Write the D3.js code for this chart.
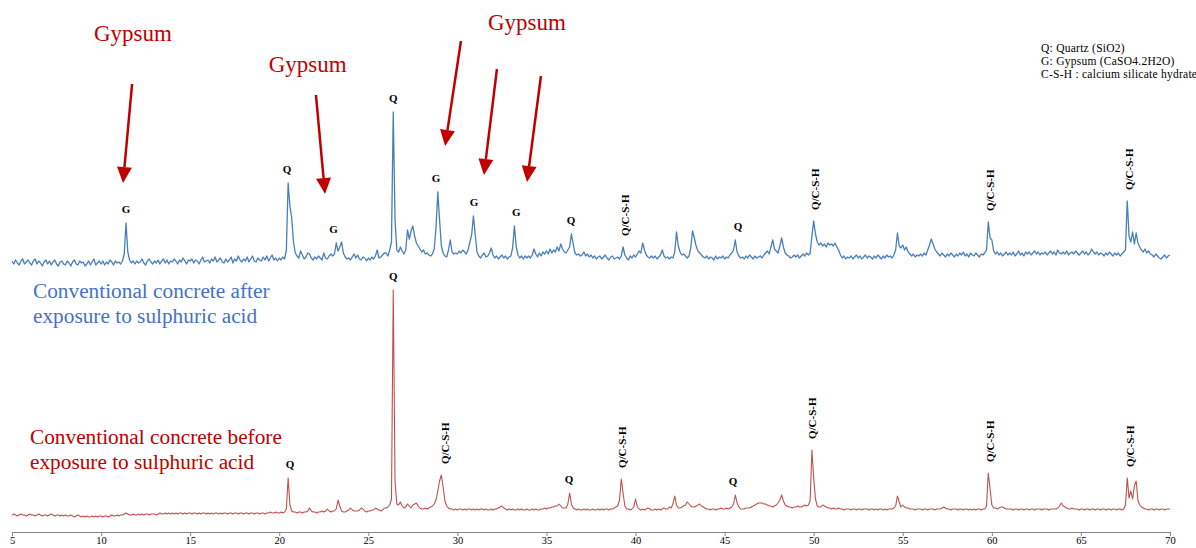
<!DOCTYPE html>
<html>
<head>
<meta charset="utf-8">
<script src="https://cdn.jsdelivr.net/npm/d3@7"></script>
<style>
  body { margin: 0; background: #fff; }
  svg { display: block; font-family: "Liberation Serif", "Times New Roman", serif; }
</style>
</head>
<body>
<div id="chart"></div>
<script>
// XRD scans, 2-theta from 5 to 70 deg, step 0.1 (one row = one degree)
const startAngle = 5, stepAngle = 0.1;

const afterCounts = [
  19,16,20,17,15,19,21,16,18,20,
  17,15,19,21,16,19,17,14,18,20,
  16,19,15,18,20,16,14,18,19,16,
  15,19,17,14,18,20,16,15,19,17,
  18,14,16,19,15,18,21,15,17,19,
  16,19,15,18,16,20,18,15,19,17,
  18,16,19,26,57,28,20,17,19,16,
  19,17,18,21,17,15,19,21,18,16,
  19,17,20,16,19,21,17,20,16,19,
  18,21,19,16,20,18,22,19,16,20,
  19,21,17,20,19,16,20,23,18,19,
  20,17,21,19,23,18,20,22,18,17,
  21,18,20,23,17,21,19,24,20,18,
  21,19,23,18,21,24,19,18,22,20,
  19,23,20,24,19,22,25,20,22,19,
  22,20,23,21,30,97,74,62,38,27,
  24,22,29,25,21,23,27,26,22,20,
  23,21,24,22,20,27,22,21,24,26,
  24,26,37,29,33,38,27,23,21,22,
  20,23,26,22,25,21,20,23,22,19,
  22,20,23,21,24,30,22,23,25,27,
  27,24,30,38,168,60,30,28,33,29,
  26,30,50,41,49,54,44,37,34,31,
  28,30,26,27,25,24,26,31,52,88,
  60,34,27,24,23,30,40,28,26,27,
  26,29,27,30,28,26,30,38,45,64,
  46,28,24,22,25,27,23,24,27,32,
  25,22,24,21,23,25,22,24,21,23,
  24,32,54,34,25,22,24,21,24,22,
  24,22,25,31,26,23,27,24,28,26,
  29,26,31,27,30,28,33,29,36,31,
  28,27,30,33,46,36,27,25,26,24,
  25,28,24,26,23,25,22,24,21,23,
  24,21,23,25,22,20,23,24,21,22,
  23,21,24,33,25,22,20,24,22,25,
  23,26,29,27,37,30,25,23,22,24,
  22,24,21,23,25,30,24,22,23,21,
  23,22,28,48,34,28,25,26,24,22,
  24,32,49,42,34,29,27,25,23,22,
  24,21,23,22,20,24,21,23,22,24,
  21,23,22,25,27,30,40,28,24,22,
  23,21,24,22,25,23,21,24,22,23,
  24,22,25,27,29,26,33,40,31,29,
  27,34,42,33,27,25,24,22,23,25,
  23,25,22,24,26,24,27,25,27,44,
  59,46,38,35,37,34,36,33,37,35,
  36,34,37,33,30,25,22,24,21,23,
  22,24,21,23,25,22,24,21,23,25,
  22,24,23,21,24,22,25,23,21,24,
  22,25,23,24,22,25,30,47,34,32,
  35,30,33,28,26,24,26,23,25,24,
  26,24,27,25,30,35,41,36,31,28,
  26,24,27,25,23,26,24,27,25,23,
  26,24,27,25,28,24,26,23,27,25,
  24,27,25,23,26,25,27,30,58,42,
  40,29,26,28,25,27,24,26,28,25,
  27,25,28,24,26,29,25,27,24,28,
  26,28,25,27,29,26,28,25,27,26,
  28,25,27,29,26,28,25,30,27,26,
  28,26,29,25,27,28,26,29,27,25,
  27,29,26,28,25,27,31,28,26,28,
  25,27,26,24,27,25,28,26,24,27,
  25,27,24,26,28,30,79,44,38,48,
  36,47,37,33,30,28,31,27,29,26,
  25,23,26,24,22,21,23,25,22,24,
  25
];

const beforeCounts = [
  18,19,18,17,18,19,18,18,17,18,
  19,18,18,17,18,19,18,17,18,18,
  17,18,19,18,17,18,18,17,18,17,
  18,17,17,18,17,16,17,18,17,16,
  17,16,17,16,16,17,16,17,16,17,
  17,16,17,17,16,17,18,17,17,18,
  17,18,18,19,20,19,18,18,19,18,
  18,19,18,19,18,19,19,18,19,19,
  19,18,19,20,19,19,20,19,20,19,
  20,19,20,19,20,20,19,20,19,20,
  20,19,20,20,19,20,19,20,20,19,
  20,19,20,19,20,20,19,20,19,20,
  20,19,20,20,19,20,20,19,20,20,
  19,20,20,19,20,20,19,20,20,19,
  20,20,19,20,20,21,20,20,21,20,
  20,21,20,21,24,55,28,22,21,21,
  20,21,21,20,21,21,22,25,22,21,
  21,20,21,21,22,21,22,24,22,21,
  22,22,24,33,27,22,21,21,22,23,
  25,23,22,22,22,23,25,24,22,21,
  22,22,23,23,25,24,23,22,23,25,
  25,26,28,34,243,52,29,28,31,27,
  25,26,29,27,25,28,29,30,27,25,
  24,24,25,24,25,26,27,29,33,42,
  52,58,46,32,27,25,24,24,23,24,
  23,24,24,23,24,23,24,24,23,24,
  23,24,23,24,24,23,24,23,23,24,
  23,24,24,25,26,27,25,24,23,24,
  23,24,23,23,24,23,24,23,23,24,
  23,23,24,23,24,23,23,24,24,25,
  24,25,25,26,26,27,27,29,27,25,
  25,25,29,40,29,25,24,23,24,23,
  23,24,23,24,23,23,24,23,23,24,
  23,24,23,24,24,23,24,24,25,26,
  27,33,54,40,27,24,24,23,24,26,
  34,26,24,23,24,23,24,25,24,23,
  23,24,23,24,23,24,25,24,24,26,
  25,29,37,28,25,25,26,27,28,31,
  29,27,26,26,27,28,29,27,26,25,
  24,24,23,24,24,23,24,24,25,24,
  24,25,24,25,26,29,38,30,26,24,
  24,24,25,25,25,26,27,28,29,30,
  30,30,29,29,28,27,27,26,27,28,
  30,33,38,32,28,27,26,26,25,26,
  26,27,26,26,27,28,27,28,32,83,
  55,34,27,26,26,28,27,26,25,25,
  24,25,24,24,25,24,24,23,24,24,
  24,23,24,24,23,24,24,23,24,24,
  24,23,24,24,23,24,23,24,24,23,
  24,23,24,24,24,25,27,37,31,26,
  28,26,25,25,24,24,24,23,24,24,
  24,23,24,24,23,24,24,24,23,24,
  24,24,25,26,25,24,24,23,24,24,
  24,23,24,24,23,24,24,23,24,23,
  24,23,24,24,23,24,24,27,60,44,
  28,25,25,24,25,26,26,25,24,24,
  24,24,23,24,24,23,24,24,23,24,
  24,23,24,24,23,24,24,24,23,24,
  24,24,23,24,24,24,24,25,27,30,
  27,26,25,24,24,25,24,24,24,23,
  24,24,23,24,24,23,24,24,23,24,
  24,23,24,24,23,24,24,23,24,24,
  23,24,24,23,24,28,55,35,42,34,
  47,52,33,28,26,25,24,24,23,24,
  24,23,24,24,23,24,24,23,24,24,
  24
];

const tickValues = [5, 10, 15, 20, 25, 30, 35, 40, 45, 50, 55, 60, 65, 70];

// peak labels: [2theta, text]
const afterPeaks = [
  [11.4, "G"], [20.44, "Q"], [23.05, "G"], [26.4, "Q"], [28.8, "G"], [30.93, "G"],
  [33.3, "G"], [36.38, "Q"], [39.4, "Q/C-S-H"], [45.75, "Q"], [50.07, "Q/C-S-H"],
  [59.9, "Q/C-S-H"], [67.7, "Q/C-S-H"]
];
const beforePeaks = [
  [20.6, "Q"], [26.4, "Q"], [29.3, "Q/C-S-H"], [36.27, "Q"], [39.24, "Q/C-S-H"],
  [45.47, "Q"], [49.9, "Q/C-S-H"], [59.9, "Q/C-S-H"], [67.75, "Q/C-S-H"]
];

// annotations in (2theta, absolute intensity) space
const gypsumNotes = [[11.79, 491], [21.6, 460], [33.9, 502]];
const gypsumArrows = [
  [[11.74, 448], [11.23, 349]],
  [[22.06, 437], [22.57, 338]],
  [[30.20, 491], [29.31, 386]],
  [[32.22, 463], [31.49, 357]],
  [[34.69, 456], [33.91, 350]]
];
const afterTitle = ["Conventional concrete after", "exposure to sulphuric acid"];
const beforeTitle = ["Conventional concrete before", "exposure to sulphuric acid"];
const legendLines = ["Q: Quartz (SiO2)", "G: Gypsum (CaSO4.2H2O)", "C-S-H : calcium silicate hydrate"];

const width = 1196, height = 548;
const afterOffset = 252;
const blue = "#4a7ebb", red = "#c0504d", darkRed = "#c00000", titleBlue = "#4472c4";
const serif = "'Liberation Serif', 'Times New Roman', serif";

const x = d3.scaleLinear().domain([5, 70]).range([12, 1170]);
const y = d3.scaleLinear().domain([0, 532]).range([532, 0]);

const toPoints = (counts, offset) => counts.map((c, i) => [startAngle + i * stepAngle, c + offset]);
const afterPts = toPoints(afterCounts, afterOffset);
const beforePts = toPoints(beforeCounts, -1);

function peakTop(pts, t) {
  return d3.max(pts.filter(p => Math.abs(p[0] - t) <= 0.35), p => p[1]);
}

const svg = d3.select("#chart").append("svg")
  .attr("width", width)
  .attr("height", height);

svg.append("rect").attr("width", width).attr("height", height).attr("fill", "#fff");

// axis
const axis = svg.append("g")
  .attr("transform", `translate(0,${y(0)})`)
  .call(d3.axisBottom(x).tickValues(tickValues).tickSize(4).tickSizeOuter(0).tickPadding(1))
  .attr("font-family", serif)
  .attr("font-size", 10.5);
axis.select(".domain").attr("stroke", "#868686");
axis.selectAll(".tick line").attr("stroke", "#868686");
axis.selectAll(".tick text").attr("fill", "#000");

// traces
const line = d3.line().x(d => x(d[0])).y(d => y(d[1]));

svg.append("path")
  .datum(beforePts)
  .attr("d", line)
  .attr("fill", "none")
  .attr("stroke", red)
  .attr("stroke-width", 1.1)
  .attr("stroke-linejoin", "round");

svg.append("path")
  .datum(afterPts)
  .attr("d", line)
  .attr("fill", "none")
  .attr("stroke", blue)
  .attr("stroke-width", 1.3)
  .attr("stroke-linejoin", "round");

// peak labels
function drawPeakLabels(list, pts) {
  list.forEach(([t, label]) => {
    const top = y(peakTop(pts, t));
    if (label.length === 1) {
      svg.append("text")
        .attr("x", x(t))
        .attr("y", top - 10)
        .attr("text-anchor", "middle")
        .attr("font-weight", "bold")
        .attr("font-size", 11)
        .text(label);
    } else {
      svg.append("text")
        .attr("transform", `translate(${x(t)},${top - 11}) rotate(-90)`)
        .attr("dy", "0.35em")
        .attr("font-weight", "bold")
        .attr("font-size", 11)
        .text(label);
    }
  });
}
drawPeakLabels(afterPeaks, afterPts);
drawPeakLabels(beforePeaks, beforePts);

// gypsum arrows
gypsumArrows.forEach(([from, to]) => {
  const x1 = x(from[0]), y1 = y(from[1]), x2 = x(to[0]), y2 = y(to[1]);
  const len = Math.hypot(x2 - x1, y2 - y1);
  const ux = (x2 - x1) / len, uy = (y2 - y1) / len;
  const headLen = 16, headHalf = 7.5;
  const bx = x2 - ux * headLen, by = y2 - uy * headLen;
  svg.append("line")
    .attr("x1", x1).attr("y1", y1)
    .attr("x2", bx).attr("y2", by)
    .attr("stroke", darkRed)
    .attr("stroke-width", 2.5);
  svg.append("polygon")
    .attr("points", [[x2, y2], [bx - uy * headHalf, by + ux * headHalf], [bx + uy * headHalf, by - ux * headHalf]].map(p => p.join(",")).join(" "))
    .attr("fill", darkRed);
});

gypsumNotes.forEach(([t, v]) => {
  svg.append("text")
    .attr("x", x(t))
    .attr("y", y(v))
    .attr("text-anchor", "middle")
    .attr("font-size", 23)
    .attr("fill", darkRed)
    .text("Gypsum");
});

// series titles
function drawTitle(lines, t, v, color) {
  lines.forEach((s, i) => {
    svg.append("text")
      .attr("x", x(t))
      .attr("y", y(v) + i * 25)
      .attr("font-size", 21.3)
      .attr("fill", color)
      .text(s);
  });
}
drawTitle(afterTitle, 6.18, 234, titleBlue);
drawTitle(beforeTitle, 6.01, 88, darkRed);

// legend
legendLines.forEach((s, i) => {
  svg.append("text")
    .attr("x", x(62.76))
    .attr("y", y(480) + i * 13)
    .attr("font-size", 11.5)
    .attr("letter-spacing", 0.25)
    .attr("fill", "#000")
    .text(s);
});
</script>
</body>
</html>
